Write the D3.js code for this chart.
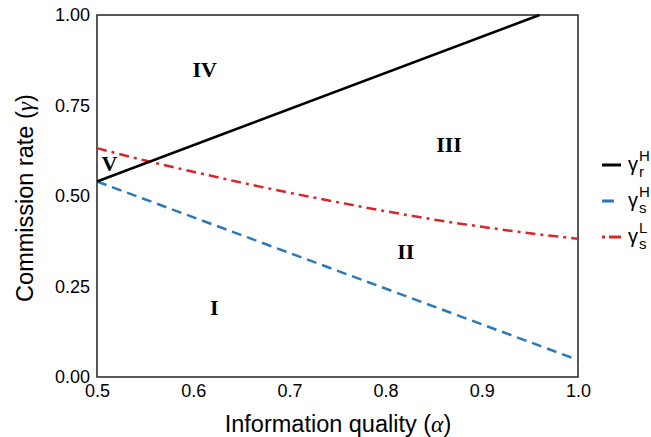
<!DOCTYPE html>
<html><head><meta charset="utf-8">
<script src="https://cdn.jsdelivr.net/npm/d3@7"></script>
<style>body{margin:0;background:#fff}</style>
</head><body>
<svg id="c" width="651" height="437"></svg>
<script>
const alphaGrid = [0.5,0.55,0.6,0.65,0.7,0.75,0.8,0.85,0.9,0.95,1.0];
const gammaRH = [[0.5,0.54],[0.96,1.0]];
const gammaSH = [[0.5,0.54],[1.0,0.047]];
const gammaSL = [0.632,0.598,0.567,0.537,0.509,0.483,0.458,0.435,0.415,0.397,0.382];
const xTicks = [0.5,0.6,0.7,0.8,0.9,1.0];
const yTicks = [0,0.25,0.5,0.75,1.0];
const regions = [
  {t:"IV",a:0.612,g:0.85},
  {t:"III",a:0.866,g:0.642},
  {t:"V",a:0.513,g:0.59},
  {t:"II",a:0.821,g:0.347},
  {t:"I",a:0.622,g:0.193}
];
const legendItems = [
  {sub:"r",sup:"H",color:"#000",dash:null},
  {sub:"s",sup:"H",color:"#2a7ab9",dash:"10,6"},
  {sub:"s",sup:"L",color:"#d9262b",dash:"10,5,3,5"}
];

const svg = d3.select("#c");
const L=97,R=578,T=15,B=377;
const x = d3.scaleLinear().domain([0.5,1]).range([L,R]);
const y = d3.scaleLinear().domain([0,1]).range([B,T]);
const sans = "Liberation Sans, Arial, Helvetica, sans-serif";

const xa = svg.append("g").attr("transform",`translate(0,${B})`)
  .call(d3.axisBottom(x).tickValues(xTicks).tickSize(0).tickPadding(7).tickFormat(d3.format(".1f")));
const ya = svg.append("g").attr("transform",`translate(${L},0)`)
  .call(d3.axisLeft(y).tickValues(yTicks).tickSize(0).tickPadding(7).tickFormat(d3.format(".2f")));
[xa,ya].forEach(a=>{a.select(".domain").remove();
  a.selectAll("text").attr("font-family",sans).attr("font-size",18).attr("fill","#000");});
xa.selectAll("text").attr("dy","0.72em");
svg.append("rect").attr("x",L).attr("y",T).attr("width",R-L).attr("height",B-T)
  .attr("fill","none").attr("stroke","#222").attr("stroke-width",1.5);

const line = d3.line().x(d=>x(d[0])).y(d=>y(d[1]));
const cline = d3.line().x(d=>x(d[0])).y(d=>y(d[1])).curve(d3.curveMonotoneX);
svg.append("path").datum(gammaSH).attr("d",line).attr("fill","none")
  .attr("stroke",legendItems[1].color).attr("stroke-width",2.5).attr("stroke-dasharray",legendItems[1].dash);
svg.append("path").datum(alphaGrid.map((a,i)=>[a,gammaSL[i]])).attr("d",cline).attr("fill","none")
  .attr("stroke",legendItems[2].color).attr("stroke-width",2.5).attr("stroke-dasharray",legendItems[2].dash);
svg.append("path").datum(gammaRH).attr("d",line).attr("fill","none")
  .attr("stroke","#000").attr("stroke-width",2.5);

svg.selectAll(".reg").data(regions).enter().append("text")
  .attr("x",d=>x(d.a)).attr("y",d=>y(d.g)).attr("text-anchor","middle").attr("dy","0.35em")
  .attr("font-family","Liberation Serif, Times New Roman, serif").attr("font-weight","bold")
  .attr("font-size",22).text(d=>d.t);

const xt = svg.append("text").attr("x",338).attr("y",432).attr("text-anchor","middle")
  .attr("font-family",sans).attr("font-size",23.5);
xt.append("tspan").text("Information quality (");
xt.append("tspan").attr("font-family","Liberation Serif, serif").attr("font-style","italic").text("α");
xt.append("tspan").text(")");
const yt = svg.append("text").attr("transform",`translate(33,198) rotate(-90)`).attr("text-anchor","middle")
  .attr("font-family",sans).attr("font-size",23.5);
yt.append("tspan").text("Commission rate (");
yt.append("tspan").attr("font-family","Liberation Serif, serif").attr("font-style","italic").text("γ");
yt.append("tspan").text(")");

const lg = svg.append("g");
legendItems.forEach((d,i)=>{
  const cy = 165 + i*36;
  lg.append("line").attr("x1",602).attr("x2",621).attr("y1",cy).attr("y2",cy)
    .attr("stroke",d.color).attr("stroke-width",3).attr("stroke-dasharray",d.dash? (i==1?"12,20":"3,4,12,20"):null);
  const tx = lg.append("text").attr("x",628).attr("y",cy+6).attr("font-family",sans).attr("font-size",20);
  tx.append("tspan").text("γ");
  tx.append("tspan").attr("font-size",15).attr("x",639).attr("dy",-10).text(d.sup);
  tx.append("tspan").attr("font-size",15).attr("x",639).attr("dy",16).text(d.sub);
});
</script>
</body></html>
